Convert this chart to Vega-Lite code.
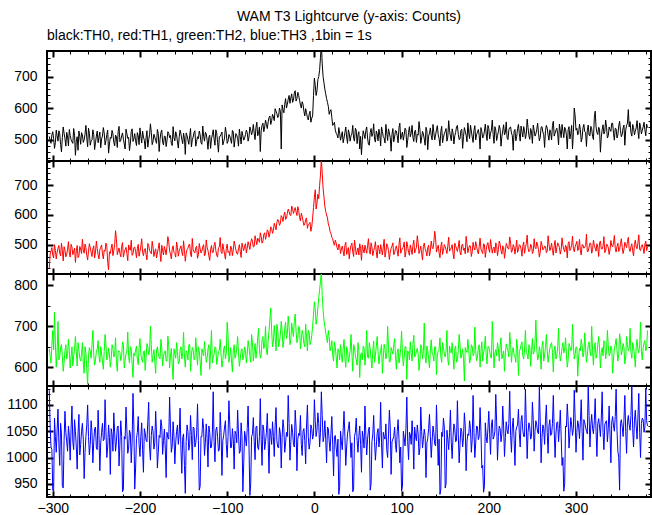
{
"$schema": "https://vega.github.io/schema/vega-lite/v6.json",
"background": "white",
"padding": {"left": 4, "top": 10, "right": 2, "bottom": 0},
"spacing": 0,
"bounds": "flush",
"title": {"text": "WAM T3 Lightcurve (y-axis: Counts)", "anchor": "middle", "dx": 20, "offset": 4},
"config": {
  "view": {"stroke": "black", "strokeWidth": 2},
  "title": {"font": "Liberation Sans", "fontSize": 14, "fontWeight": "normal", "color": "black"},
  "axis": {"domain": false, "grid": false, "labelFont": "Liberation Sans", "labelFontSize": 14, "labelColor": "black", "tickColor": "black", "title": null, "format": "d", "labelOverlap": false, "labelFlush": false, "labelBound": false},
  "concat": {"spacing": 0}
},
"data": {"values": [
{"t":-304,"a":510,"b":420,"c":645,"d":1128},{"t":-303,"a":497,"b":468,"c":628,"d":1060},{"t":-302,"a":488,"b":478,"c":610,"d":1020},{"t":-301,"a":515,"b":490,"c":655,"d":1015},{"t":-300,"a":525,"b":465,"c":690,"d":938},{"t":-299,"a":503,"b":455,"c":642,"d":935},{"t":-298,"a":472,"b":500,"c":735,"d":1075},{"t":-297,"a":490,"b":481,"c":660,"d":1040},{"t":-296,"a":530,"b":452,"c":600,"d":1010},{"t":-295,"a":512,"b":474,"c":636,"d":1052},
{"t":-294,"a":495,"b":488,"c":712,"d":1092},{"t":-293,"a":528,"b":497,"c":618,"d":1028},{"t":-292,"a":518,"b":470,"c":625,"d":985},{"t":-291,"a":484,"b":462,"c":648,"d":1065},{"t":-290,"a":461,"b":505,"c":655,"d":1045},{"t":-289,"a":506,"b":480,"c":626,"d":945},{"t":-288,"a":540,"b":445,"c":590,"d":942},{"t":-287,"a":520,"b":493,"c":612,"d":1032},{"t":-286,"a":503,"b":482,"c":640,"d":1088},{"t":-285,"a":479,"b":459,"c":655,"d":1048},
{"t":-284,"a":523,"b":468,"c":620,"d":1030},{"t":-283,"a":508,"b":485,"c":634,"d":1012},{"t":-282,"a":480,"b":510,"c":668,"d":1060},{"t":-281,"a":532,"b":472,"c":640,"d":1040},{"t":-280,"a":513,"b":458,"c":598,"d":995},{"t":-279,"a":500,"b":501,"c":625,"d":1055},{"t":-278,"a":493,"b":492,"c":650,"d":1098},{"t":-277,"a":488,"b":466,"c":603,"d":1030},{"t":-276,"a":535,"b":476,"c":628,"d":1015},{"t":-275,"a":514,"b":488,"c":645,"d":1072},
{"t":-274,"a":450,"b":440,"c":675,"d":1050},{"t":-273,"a":495,"b":479,"c":638,"d":1020},{"t":-272,"a":509,"b":497,"c":603,"d":978},{"t":-271,"a":466,"b":456,"c":660,"d":1045},{"t":-270,"a":527,"b":462,"c":642,"d":1082},{"t":-269,"a":510,"b":494,"c":622,"d":1005},{"t":-268,"a":485,"b":485,"c":615,"d":1025},{"t":-267,"a":522,"b":470,"c":633,"d":1050},{"t":-266,"a":515,"b":518,"c":660,"d":1065},{"t":-265,"a":491,"b":483,"c":610,"d":1035},
{"t":-264,"a":499,"b":471,"c":585,"d":960},{"t":-263,"a":517,"b":502,"c":650,"d":1010},{"t":-262,"a":545,"b":490,"c":635,"d":1040},{"t":-261,"a":505,"b":465,"c":595,"d":1062},{"t":-260,"a":477,"b":448,"c":558,"d":1100},{"t":-259,"a":536,"b":478,"c":628,"d":1040},{"t":-258,"a":520,"b":503,"c":648,"d":1005},{"t":-257,"a":482,"b":489,"c":640,"d":1025},{"t":-256,"a":496,"b":474,"c":622,"d":1070},{"t":-255,"a":499,"b":460,"c":655,"d":1048},
{"t":-254,"a":531,"b":486,"c":690,"d":990},{"t":-253,"a":516,"b":496,"c":632,"d":1030},{"t":-252,"a":468,"b":455,"c":605,"d":1055},{"t":-251,"a":490,"b":475,"c":618,"d":1058},{"t":-250,"a":511,"b":512,"c":638,"d":1018},{"t":-249,"a":527,"b":487,"c":645,"d":1015},{"t":-248,"a":490,"b":466,"c":665,"d":1090},{"t":-247,"a":508,"b":452,"c":627,"d":1042},{"t":-246,"a":524,"b":483,"c":612,"d":975},{"t":-245,"a":474,"b":491,"c":650,"d":1028},
{"t":-244,"a":502,"b":499,"c":632,"d":1048},{"t":-243,"a":511,"b":468,"c":615,"d":1065},{"t":-242,"a":538,"b":452,"c":595,"d":1032},{"t":-241,"a":521,"b":482,"c":638,"d":1035},{"t":-240,"a":483,"b":478,"c":680,"d":1110},{"t":-239,"a":497,"b":505,"c":655,"d":1050},{"t":-238,"a":516,"b":495,"c":618,"d":1000},{"t":-237,"a":530,"b":440,"c":624,"d":1020},{"t":-236,"a":457,"b":415,"c":647,"d":1062},{"t":-235,"a":486,"b":476,"c":632,"d":1038},
{"t":-234,"a":507,"b":470,"c":600,"d":968},{"t":-233,"a":504,"b":488,"c":620,"d":1055},{"t":-232,"a":529,"b":502,"c":655,"d":1044},{"t":-231,"a":518,"b":463,"c":646,"d":1012},{"t":-230,"a":491,"b":480,"c":625,"d":1085},{"t":-229,"a":480,"b":500,"c":630,"d":1046},{"t":-228,"a":514,"b":547,"c":672,"d":1012},{"t":-227,"a":509,"b":520,"c":612,"d":1030},{"t":-226,"a":475,"b":466,"c":590,"d":1058},{"t":-225,"a":526,"b":478,"c":640,"d":1060},
{"t":-224,"a":542,"b":489,"c":640,"d":984},{"t":-223,"a":493,"b":471,"c":636,"d":1025},{"t":-222,"a":498,"b":459,"c":616,"d":1070},{"t":-221,"a":512,"b":494,"c":628,"d":1040},{"t":-220,"a":521,"b":507,"c":662,"d":935},{"t":-219,"a":501,"b":458,"c":655,"d":940},{"t":-218,"a":486,"b":473,"c":598,"d":1040},{"t":-217,"a":470,"b":484,"c":617,"d":1035},{"t":-216,"a":533,"b":491,"c":633,"d":1096},{"t":-215,"a":519,"b":470,"c":640,"d":1052},
{"t":-214,"a":504,"b":446,"c":686,"d":1008},{"t":-213,"a":507,"b":499,"c":626,"d":1018},{"t":-212,"a":465,"b":484,"c":610,"d":1052},{"t":-211,"a":489,"b":481,"c":650,"d":1045},{"t":-210,"a":526,"b":515,"c":645,"d":990},{"t":-209,"a":534,"b":464,"c":608,"d":1030},{"t":-208,"a":494,"b":469,"c":575,"d":1122},{"t":-207,"a":503,"b":490,"c":635,"d":1062},{"t":-206,"a":519,"b":492,"c":628,"d":940},{"t":-205,"a":496,"b":477,"c":642,"d":980},
{"t":-204,"a":481,"b":456,"c":652,"d":1036},{"t":-203,"a":522,"b":486,"c":620,"d":1048},{"t":-202,"a":512,"b":501,"c":606,"d":1078},{"t":-201,"a":484,"b":461,"c":648,"d":1025},{"t":-200,"a":537,"b":477,"c":670,"d":1002},{"t":-199,"a":511,"b":495,"c":632,"d":1040},{"t":-198,"a":489,"b":520,"c":620,"d":1066},{"t":-197,"a":527,"b":474,"c":612,"d":1015},{"t":-196,"a":508,"b":463,"c":638,"d":972},{"t":-195,"a":498,"b":483,"c":640,"d":1055},
{"t":-194,"a":470,"b":487,"c":592,"d":1047},{"t":-193,"a":506,"b":467,"c":625,"d":1033},{"t":-192,"a":528,"b":449,"c":658,"d":1030},{"t":-191,"a":476,"b":504,"c":650,"d":1068},{"t":-190,"a":500,"b":498,"c":630,"d":1105},{"t":-189,"a":515,"b":480,"c":636,"d":1020},{"t":-188,"a":550,"b":475,"c":700,"d":995},{"t":-187,"a":523,"b":469,"c":655,"d":1042},{"t":-186,"a":484,"b":511,"c":612,"d":1060},{"t":-185,"a":494,"b":492,"c":628,"d":1050},
{"t":-184,"a":517,"b":460,"c":643,"d":1016},{"t":-183,"a":508,"b":476,"c":615,"d":1028},{"t":-182,"a":497,"b":486,"c":585,"d":1088},{"t":-181,"a":488,"b":455,"c":642,"d":1045},{"t":-180,"a":532,"b":472,"c":650,"d":980},{"t":-179,"a":519,"b":487,"c":633,"d":1010},{"t":-178,"a":462,"b":506,"c":624,"d":1042},{"t":-177,"a":501,"b":471,"c":620,"d":1038},{"t":-176,"a":522,"b":443,"c":668,"d":1072},{"t":-175,"a":530,"b":498,"c":648,"d":1060},
{"t":-174,"a":492,"b":481,"c":603,"d":1006},{"t":-173,"a":483,"b":465,"c":627,"d":1032},{"t":-172,"a":511,"b":494,"c":637,"d":1054},{"t":-171,"a":510,"b":482,"c":640,"d":1018},{"t":-170,"a":478,"b":466,"c":615,"d":962},{"t":-169,"a":497,"b":493,"c":615,"d":1048},{"t":-168,"a":525,"b":527,"c":676,"d":1038},{"t":-167,"a":520,"b":510,"c":652,"d":1035},{"t":-166,"a":506,"b":479,"c":598,"d":1115},{"t":-165,"a":513,"b":468,"c":630,"d":1055},
{"t":-164,"a":487,"b":452,"c":646,"d":1010},{"t":-163,"a":481,"b":485,"c":605,"d":1022},{"t":-162,"a":541,"b":496,"c":570,"d":1068},{"t":-161,"a":506,"b":474,"c":645,"d":1040},{"t":-160,"a":496,"b":470,"c":632,"d":988},{"t":-159,"a":525,"b":458,"c":622,"d":1028},{"t":-158,"a":515,"b":509,"c":660,"d":1050},{"t":-157,"a":492,"b":490,"c":638,"d":1062},{"t":-156,"a":473,"b":461,"c":608,"d":1025},{"t":-155,"a":509,"b":479,"c":612,"d":1045},
{"t":-154,"a":530,"b":488,"c":641,"d":1094},{"t":-153,"a":518,"b":496,"c":650,"d":1015},{"t":-152,"a":501,"b":475,"c":620,"d":970},{"t":-151,"a":487,"b":463,"c":634,"d":1038},{"t":-150,"a":520,"b":513,"c":685,"d":1045},{"t":-149,"a":504,"b":481,"c":625,"d":985},{"t":-148,"a":453,"b":444,"c":600,"d":932},{"t":-147,"a":521,"b":470,"c":640,"d":1030},{"t":-146,"a":513,"b":483,"c":635,"d":1062},{"t":-145,"a":499,"b":488,"c":618,"d":1050},
{"t":-144,"a":485,"b":499,"c":655,"d":1014},{"t":-143,"a":512,"b":502,"c":656,"d":1025},{"t":-142,"a":535,"b":467,"c":590,"d":1080},{"t":-141,"a":477,"b":459,"c":630,"d":1042},{"t":-140,"a":499,"b":521,"c":648,"d":996},{"t":-139,"a":508,"b":483,"c":643,"d":1058},{"t":-138,"a":523,"b":476,"c":618,"d":1056},{"t":-137,"a":528,"b":472,"c":620,"d":1020},{"t":-136,"a":479,"b":490,"c":672,"d":1028},{"t":-135,"a":494,"b":495,"c":636,"d":1045},
{"t":-134,"a":509,"b":454,"c":605,"d":1102},{"t":-133,"a":503,"b":466,"c":650,"d":1032},{"t":-132,"a":527,"b":504,"c":640,"d":938},{"t":-131,"a":516,"b":486,"c":614,"d":945},{"t":-130,"a":490,"b":472,"c":580,"d":1040},{"t":-129,"a":485,"b":478,"c":645,"d":1040},{"t":-128,"a":543,"b":493,"c":636,"d":1074},{"t":-127,"a":511,"b":500,"c":628,"d":1055},{"t":-126,"a":495,"b":462,"c":663,"d":1004},{"t":-125,"a":523,"b":469,"c":638,"d":1028},
{"t":-124,"a":518,"b":516,"c":612,"d":1064},{"t":-123,"a":498,"b":491,"c":622,"d":1036},{"t":-122,"a":469,"b":480,"c":645,"d":982},{"t":-121,"a":507,"b":462,"c":655,"d":1060},{"t":-120,"a":514,"b":447,"c":595,"d":1048},{"t":-119,"a":472,"b":484,"c":640,"d":1018},{"t":-118,"a":502,"b":497,"c":690,"d":1020},{"t":-117,"a":515,"b":473,"c":610,"d":1045},{"t":-116,"a":531,"b":474,"c":625,"d":1125},{"t":-115,"a":502,"b":497,"c":632,"d":1030},
{"t":-114,"a":482,"b":508,"c":650,"d":992},{"t":-113,"a":531,"b":480,"c":648,"d":1052},{"t":-112,"a":521,"b":465,"c":607,"d":1058},{"t":-111,"a":491,"b":458,"c":620,"d":1040},{"t":-110,"a":460,"b":489,"c":638,"d":1012},{"t":-109,"a":509,"b":492,"c":642,"d":1015},{"t":-108,"a":510,"b":524,"c":668,"d":1086},{"t":-107,"a":517,"b":476,"c":630,"d":1048},{"t":-106,"a":524,"b":470,"c":600,"d":966},{"t":-105,"a":483,"b":503,"c":616,"d":1032},
{"t":-104,"a":493,"b":485,"c":644,"d":1042},{"t":-103,"a":505,"b":468,"c":652,"d":1058},{"t":-102,"a":539,"b":451,"c":620,"d":1070},{"t":-101,"a":520,"b":487,"c":635,"d":1025},{"t":-100,"a":488,"b":502,"c":710,"d":1000},{"t":-99,"a":495,"b":474,"c":680,"d":1040},{"t":-98,"a":516,"b":478,"c":612,"d":1108},{"t":-97,"a":511,"b":463,"c":628,"d":1062},{"t":-96,"a":499,"b":495,"c":648,"d":1018},{"t":-95,"a":488,"b":490,"c":615,"d":1020},
{"t":-94,"a":529,"b":463,"c":588,"d":1055},{"t":-93,"a":524,"b":481,"c":640,"d":1035},{"t":-92,"a":476,"b":512,"c":655,"d":978},{"t":-91,"a":500,"b":498,"c":622,"d":1050},{"t":-90,"a":519,"b":482,"c":630,"d":1046},{"t":-89,"a":514,"b":470,"c":648,"d":1028},{"t":-88,"a":503,"b":468,"c":675,"d":1090},{"t":-87,"a":479,"b":486,"c":633,"d":1045},{"t":-86,"a":533,"b":500,"c":602,"d":1008},{"t":-85,"a":510,"b":477,"c":620,"d":1012},
{"t":-84,"a":486,"b":457,"c":640,"d":1066},{"t":-83,"a":526,"b":505,"c":645,"d":1040},{"t":-82,"a":512,"b":491,"c":618,"d":935},{"t":-81,"a":498,"b":480,"c":628,"d":990},{"t":-80,"a":505,"b":495,"c":650,"d":1050},{"t":-79,"a":516,"b":503,"c":640,"d":1038},{"t":-78,"a":530,"b":472,"c":610,"d":1022},{"t":-77,"a":522,"b":488,"c":632,"d":1055},{"t":-76,"a":495,"b":510,"c":665,"d":1098},{"t":-75,"a":508,"b":498,"c":650,"d":1025},
{"t":-74,"a":540,"b":484,"c":628,"d":928},{"t":-73,"a":530,"b":506,"c":612,"d":950},{"t":-72,"a":515,"b":520,"c":680,"d":1040},{"t":-71,"a":526,"b":512,"c":660,"d":1045},{"t":-70,"a":548,"b":492,"c":615,"d":1076},{"t":-69,"a":520,"b":494,"c":638,"d":1030},{"t":-68,"a":500,"b":530,"c":658,"d":996},{"t":-67,"a":538,"b":515,"c":622,"d":1058},{"t":-66,"a":555,"b":500,"c":640,"d":1060},{"t":-65,"a":512,"b":522,"c":672,"d":1020},
{"t":-64,"a":520,"b":515,"c":695,"d":1015},{"t":-63,"a":540,"b":508,"c":645,"d":1040},{"t":-62,"a":462,"b":540,"c":622,"d":1112},{"t":-61,"a":528,"b":528,"c":630,"d":1035},{"t":-60,"a":545,"b":505,"c":668,"d":985},{"t":-59,"a":552,"b":512,"c":675,"d":1062},{"t":-58,"a":525,"b":535,"c":645,"d":1052},{"t":-57,"a":540,"b":540,"c":655,"d":1015},{"t":-56,"a":562,"b":518,"c":700,"d":1030},{"t":-55,"a":548,"b":530,"c":640,"d":1048},
{"t":-54,"a":535,"b":550,"c":630,"d":1084},{"t":-53,"a":556,"b":545,"c":665,"d":1030},{"t":-52,"a":570,"b":525,"c":688,"d":970},{"t":-51,"a":575,"b":538,"c":718,"d":1055},{"t":-50,"a":548,"b":560,"c":745,"d":1044},{"t":-49,"a":560,"b":555,"c":690,"d":1025},{"t":-48,"a":580,"b":538,"c":650,"d":1068},{"t":-47,"a":572,"b":548,"c":662,"d":1040},{"t":-46,"a":560,"b":572,"c":702,"d":1002},{"t":-45,"a":598,"b":562,"c":675,"d":1060},
{"t":-44,"a":590,"b":550,"c":640,"d":1095},{"t":-43,"a":582,"b":575,"c":705,"d":1032},{"t":-42,"a":570,"b":585,"c":690,"d":1020},{"t":-41,"a":575,"b":580,"c":650,"d":1018},{"t":-40,"a":600,"b":565,"c":662,"d":1057},{"t":-39,"a":590,"b":572,"c":680,"d":1045},{"t":-38,"a":470,"b":598,"c":712,"d":980},{"t":-37,"a":610,"b":592,"c":690,"d":1038},{"t":-36,"a":595,"b":578,"c":648,"d":1072},{"t":-35,"a":585,"b":598,"c":665,"d":1055},
{"t":-34,"a":612,"b":610,"c":695,"d":1010},{"t":-33,"a":630,"b":585,"c":710,"d":1028},{"t":-32,"a":600,"b":590,"c":670,"d":1048},{"t":-31,"a":612,"b":605,"c":682,"d":1040},{"t":-30,"a":628,"b":620,"c":725,"d":1118},{"t":-29,"a":640,"b":612,"c":700,"d":1065},{"t":-28,"a":615,"b":600,"c":655,"d":995},{"t":-27,"a":632,"b":598,"c":668,"d":1030},{"t":-26,"a":645,"b":630,"c":708,"d":1063},{"t":-25,"a":618,"b":622,"c":690,"d":1048},
{"t":-24,"a":625,"b":605,"c":675,"d":1026},{"t":-23,"a":648,"b":615,"c":712,"d":1020},{"t":-22,"a":655,"b":625,"c":730,"d":1090},{"t":-21,"a":622,"b":610,"c":688,"d":1058},{"t":-20,"a":630,"b":598,"c":660,"d":975},{"t":-19,"a":650,"b":628,"c":670,"d":1035},{"t":-18,"a":640,"b":615,"c":700,"d":1046},{"t":-17,"a":625,"b":592,"c":698,"d":1042},{"t":-16,"a":610,"b":580,"c":645,"d":1080},{"t":-15,"a":600,"b":606,"c":665,"d":1025},
{"t":-14,"a":620,"b":595,"c":690,"d":1004},{"t":-13,"a":612,"b":580,"c":680,"d":1050},{"t":-12,"a":590,"b":565,"c":658,"d":1055},{"t":-11,"a":575,"b":570,"c":650,"d":1032},{"t":-10,"a":598,"b":585,"c":705,"d":988},{"t":-9,"a":585,"b":590,"c":672,"d":1060},{"t":-8,"a":570,"b":555,"c":640,"d":1100},{"t":-7,"a":562,"b":568,"c":690,"d":1040},{"t":-6,"a":580,"b":570,"c":685,"d":1016},{"t":-5,"a":590,"b":575,"c":655,"d":1028},
{"t":-4,"a":555,"b":545,"c":662,"d":1062},{"t":-3,"a":568,"b":560,"c":678,"d":1055},{"t":-2,"a":575,"b":590,"c":700,"d":1035},{"t":-1,"a":640,"b":625,"c":730,"d":1045},{"t":0,"a":695,"b":660,"c":760,"d":1110},{"t":1,"a":672,"b":685,"c":742,"d":1070},{"t":2,"a":640,"b":620,"c":705,"d":1040},{"t":3,"a":655,"b":640,"c":720,"d":1052},{"t":4,"a":690,"b":670,"c":745,"d":1085},{"t":5,"a":700,"b":655,"c":770,"d":1065},
{"t":6,"a":720,"b":700,"c":790,"d":1020},{"t":7,"a":760,"b":735,"c":810,"d":1048},{"t":8,"a":805,"b":790,"c":835,"d":1125},{"t":9,"a":740,"b":740,"c":775,"d":1080},{"t":10,"a":700,"b":690,"c":740,"d":1030},{"t":11,"a":680,"b":660,"c":715,"d":1040},{"t":12,"a":660,"b":630,"c":700,"d":1070},{"t":13,"a":645,"b":612,"c":685,"d":1035},{"t":14,"a":630,"b":600,"c":672,"d":990},{"t":15,"a":618,"b":590,"c":660,"d":1058},
{"t":16,"a":605,"b":570,"c":690,"d":1055},{"t":17,"a":580,"b":560,"c":675,"d":1030},{"t":18,"a":590,"b":545,"c":640,"d":1012},{"t":19,"a":595,"b":538,"c":650,"d":1045},{"t":20,"a":570,"b":525,"c":665,"d":1078},{"t":21,"a":545,"b":520,"c":630,"d":1025},{"t":22,"a":548,"b":505,"c":615,"d":965},{"t":23,"a":555,"b":498,"c":662,"d":1040},{"t":24,"a":530,"b":515,"c":650,"d":1042},{"t":25,"a":520,"b":505,"c":625,"d":1018},
{"t":26,"a":515,"b":490,"c":598,"d":1002},{"t":27,"a":505,"b":482,"c":645,"d":1035},{"t":28,"a":538,"b":502,"c":640,"d":930},{"t":29,"a":520,"b":496,"c":618,"d":945},{"t":30,"a":498,"b":470,"c":655,"d":1050},{"t":31,"a":512,"b":485,"c":630,"d":1030},{"t":32,"a":525,"b":495,"c":612,"d":1015},{"t":33,"a":490,"b":478,"c":645,"d":1052},{"t":34,"a":505,"b":462,"c":668,"d":1088},{"t":35,"a":522,"b":498,"c":622,"d":1040},
{"t":36,"a":540,"b":508,"c":600,"d":985},{"t":37,"a":508,"b":467,"c":650,"d":1020},{"t":38,"a":488,"b":480,"c":642,"d":1045},{"t":39,"a":531,"b":490,"c":612,"d":1055},{"t":40,"a":520,"b":452,"c":625,"d":1068},{"t":41,"a":495,"b":482,"c":640,"d":1035},{"t":42,"a":512,"b":497,"c":680,"d":1000},{"t":43,"a":518,"b":505,"c":634,"d":1028},{"t":44,"a":545,"b":475,"c":590,"d":935},{"t":45,"a":503,"b":460,"c":655,"d":940},
{"t":46,"a":495,"b":515,"c":648,"d":1040},{"t":47,"a":536,"b":493,"c":628,"d":1048},{"t":48,"a":530,"b":466,"c":618,"d":1075},{"t":49,"a":487,"b":477,"c":605,"d":1032},{"t":50,"a":515,"b":489,"c":660,"d":1010},{"t":51,"a":525,"b":465,"c":642,"d":1040},{"t":52,"a":470,"b":503,"c":575,"d":1060},{"t":53,"a":510,"b":488,"c":630,"d":1025},{"t":54,"a":452,"b":447,"c":635,"d":972},{"t":55,"a":498,"b":499,"c":618,"d":1050},
{"t":56,"a":528,"b":484,"c":652,"d":1038},{"t":57,"a":516,"b":472,"c":648,"d":1018},{"t":58,"a":503,"b":498,"c":605,"d":1098},{"t":59,"a":529,"b":484,"c":636,"d":1042},{"t":60,"a":540,"b":471,"c":690,"d":1005},{"t":61,"a":505,"b":496,"c":625,"d":1035},{"t":62,"a":485,"b":520,"c":622,"d":1052},{"t":63,"a":482,"b":480,"c":660,"d":1058},{"t":64,"a":522,"b":468,"c":645,"d":938},{"t":65,"a":535,"b":506,"c":620,"d":950},
{"t":66,"a":510,"b":492,"c":598,"d":1030},{"t":67,"a":519,"b":463,"c":640,"d":1045},{"t":68,"a":550,"b":479,"c":664,"d":1080},{"t":69,"a":500,"b":491,"c":612,"d":1030},{"t":70,"a":492,"b":510,"c":630,"d":995},{"t":71,"a":527,"b":475,"c":650,"d":1022},{"t":72,"a":518,"b":455,"c":675,"d":1046},{"t":73,"a":496,"b":498,"c":638,"d":1055},{"t":74,"a":533,"b":487,"c":608,"d":1020},{"t":75,"a":514,"b":469,"c":628,"d":1040},
{"t":76,"a":480,"b":500,"c":640,"d":1105},{"t":77,"a":540,"b":484,"c":655,"d":1028},{"t":78,"a":526,"b":465,"c":585,"d":980},{"t":79,"a":509,"b":492,"c":622,"d":1048},{"t":80,"a":505,"b":518,"c":656,"d":1040},{"t":81,"a":489,"b":458,"c":644,"d":1035},{"t":82,"a":548,"b":476,"c":620,"d":1064},{"t":83,"a":521,"b":503,"c":632,"d":1015},{"t":84,"a":497,"b":494,"c":700,"d":1000},{"t":85,"a":534,"b":481,"c":648,"d":1045},
{"t":86,"a":521,"b":450,"c":612,"d":1090},{"t":87,"a":506,"b":474,"c":615,"d":1058},{"t":88,"a":463,"b":488,"c":648,"d":968},{"t":89,"a":517,"b":495,"c":640,"d":1030},{"t":90,"a":535,"b":506,"c":632,"d":1035},{"t":91,"a":493,"b":466,"c":655,"d":1040},{"t":92,"a":508,"b":472,"c":670,"d":1058},{"t":93,"a":529,"b":487,"c":628,"d":1025},{"t":94,"a":527,"b":496,"c":595,"d":1010},{"t":95,"a":512,"b":479,"c":636,"d":1050},
{"t":96,"a":490,"b":461,"c":645,"d":1072},{"t":97,"a":538,"b":500,"c":610,"d":1035},{"t":98,"a":552,"b":523,"c":625,"d":990},{"t":99,"a":501,"b":471,"c":646,"d":1020},{"t":100,"a":513,"b":480,"c":688,"d":936},{"t":101,"a":524,"b":489,"c":632,"d":945},{"t":102,"a":498,"b":491,"c":603,"d":1050},{"t":103,"a":515,"b":509,"c":625,"d":1038},{"t":104,"a":536,"b":458,"c":650,"d":1022},{"t":105,"a":530,"b":476,"c":650,"d":1055},
{"t":106,"a":475,"b":510,"c":570,"d":1115},{"t":107,"a":498,"b":493,"c":640,"d":1030},{"t":108,"a":523,"b":474,"c":638,"d":996},{"t":109,"a":541,"b":464,"c":618,"d":1048},{"t":110,"a":509,"b":499,"c":662,"d":1044},{"t":111,"a":520,"b":485,"c":635,"d":1025},{"t":112,"a":545,"b":467,"c":615,"d":1070},{"t":113,"a":507,"b":497,"c":656,"d":1040},{"t":114,"a":494,"b":515,"c":678,"d":978},{"t":115,"a":526,"b":472,"c":625,"d":1058},
{"t":116,"a":530,"b":483,"c":628,"d":1040},{"t":117,"a":491,"b":490,"c":640,"d":1032},{"t":118,"a":517,"b":530,"c":646,"d":1062},{"t":119,"a":514,"b":505,"c":632,"d":1045},{"t":120,"a":557,"b":470,"c":592,"d":1005},{"t":121,"a":532,"b":481,"c":615,"d":1018},{"t":122,"a":488,"b":495,"c":655,"d":1096},{"t":123,"a":505,"b":470,"c":648,"d":1050},{"t":124,"a":526,"b":448,"c":620,"d":1018},{"t":125,"a":518,"b":494,"c":638,"d":1035},
{"t":126,"a":502,"b":505,"c":708,"d":1054},{"t":127,"a":482,"b":486,"c":626,"d":1042},{"t":128,"a":539,"b":478,"c":610,"d":962},{"t":129,"a":527,"b":462,"c":652,"d":1028},{"t":130,"a":468,"b":490,"c":642,"d":1036},{"t":131,"a":511,"b":498,"c":620,"d":1055},{"t":132,"a":521,"b":462,"c":598,"d":1082},{"t":133,"a":537,"b":479,"c":642,"d":1040},{"t":134,"a":512,"b":512,"c":667,"d":1000},{"t":135,"a":499,"b":491,"c":636,"d":1030},
{"t":136,"a":548,"b":486,"c":630,"d":1060},{"t":137,"a":522,"b":508,"c":615,"d":1048},{"t":138,"a":499,"b":545,"c":650,"d":1025},{"t":139,"a":515,"b":520,"c":650,"d":1022},{"t":140,"a":531,"b":475,"c":582,"d":1100},{"t":141,"a":544,"b":487,"c":630,"d":1045},{"t":142,"a":515,"b":498,"c":640,"d":985},{"t":143,"a":503,"b":473,"c":644,"d":1035},{"t":144,"a":480,"b":456,"c":672,"d":930},{"t":145,"a":526,"b":494,"c":625,"d":940},
{"t":146,"a":542,"b":509,"c":612,"d":1048},{"t":147,"a":490,"b":467,"c":660,"d":1040},{"t":148,"a":507,"b":481,"c":648,"d":1075},{"t":149,"a":519,"b":500,"c":632,"d":1058},{"t":150,"a":526,"b":493,"c":625,"d":942},{"t":151,"a":535,"b":483,"c":640,"d":950},{"t":152,"a":495,"b":470,"c":690,"d":1052},{"t":153,"a":508,"b":496,"c":618,"d":1035},{"t":154,"a":560,"b":525,"c":605,"d":1015},{"t":155,"a":528,"b":478,"c":652,"d":1048},
{"t":156,"a":511,"b":484,"c":638,"d":1090},{"t":157,"a":496,"b":489,"c":635,"d":1028},{"t":158,"a":534,"b":500,"c":660,"d":998},{"t":159,"a":521,"b":471,"c":628,"d":1040},{"t":160,"a":486,"b":452,"c":595,"d":1064},{"t":161,"a":512,"b":505,"c":645,"d":1055},{"t":162,"a":523,"b":496,"c":652,"d":1030},{"t":163,"a":540,"b":486,"c":612,"d":1032},{"t":164,"a":545,"b":477,"c":618,"d":1108},{"t":165,"a":517,"b":492,"c":640,"d":1045},
{"t":166,"a":500,"b":514,"c":680,"d":990},{"t":167,"a":502,"b":475,"c":655,"d":1025},{"t":168,"a":529,"b":465,"c":622,"d":1056},{"t":169,"a":533,"b":498,"c":630,"d":1050},{"t":170,"a":472,"b":502,"c":645,"d":1020},{"t":171,"a":510,"b":481,"c":622,"d":1038},{"t":172,"a":538,"b":488,"c":566,"d":1085},{"t":173,"a":526,"b":469,"c":648,"d":1060},{"t":174,"a":514,"b":528,"c":640,"d":975},{"t":175,"a":493,"b":502,"c":636,"d":1030},
{"t":176,"a":553,"b":473,"c":668,"d":1045},{"t":177,"a":520,"b":488,"c":642,"d":1042},{"t":178,"a":503,"b":497,"c":610,"d":1070},{"t":179,"a":546,"b":495,"c":620,"d":1055},{"t":180,"a":527,"b":460,"c":655,"d":1010},{"t":181,"a":508,"b":476,"c":650,"d":1035},{"t":182,"a":491,"b":508,"c":628,"d":1118},{"t":183,"a":529,"b":490,"c":633,"d":1048},{"t":184,"a":544,"b":482,"c":698,"d":1000},{"t":185,"a":499,"b":510,"c":640,"d":1028},
{"t":186,"a":516,"b":495,"c":616,"d":1060},{"t":187,"a":523,"b":479,"c":625,"d":1058},{"t":188,"a":532,"b":469,"c":647,"d":1034},{"t":189,"a":514,"b":493,"c":655,"d":1040},{"t":190,"a":470,"b":522,"c":600,"d":1095},{"t":191,"a":538,"b":485,"c":638,"d":1050},{"t":192,"a":525,"b":478,"c":662,"d":980},{"t":193,"a":505,"b":470,"c":615,"d":985},{"t":194,"a":510,"b":503,"c":635,"d":934},{"t":195,"a":527,"b":499,"c":645,"d":945},
{"t":196,"a":549,"b":457,"c":676,"d":1066},{"t":197,"a":518,"b":482,"c":632,"d":1040},{"t":198,"a":497,"b":499,"c":608,"d":1028},{"t":199,"a":545,"b":507,"c":650,"d":1055},{"t":200,"a":536,"b":485,"c":650,"d":1088},{"t":201,"a":502,"b":474,"c":640,"d":1045},{"t":202,"a":520,"b":517,"c":625,"d":1006},{"t":203,"a":530,"b":494,"c":622,"d":1062},{"t":204,"a":562,"b":471,"c":712,"d":1072},{"t":205,"a":516,"b":487,"c":658,"d":1035},
{"t":206,"a":488,"b":492,"c":598,"d":1040},{"t":207,"a":541,"b":472,"c":635,"d":1050},{"t":208,"a":530,"b":506,"c":643,"d":1120},{"t":209,"a":497,"b":497,"c":628,"d":1068},{"t":210,"a":512,"b":463,"c":660,"d":995},{"t":211,"a":525,"b":483,"c":645,"d":1040},{"t":212,"a":545,"b":512,"c":615,"d":1060},{"t":213,"a":533,"b":501,"c":652,"d":1055},{"t":214,"a":479,"b":480,"c":672,"d":1030},{"t":215,"a":510,"b":468,"c":620,"d":1045},
{"t":216,"a":528,"b":496,"c":630,"d":1098},{"t":217,"a":547,"b":490,"c":640,"d":1060},{"t":218,"a":515,"b":454,"c":590,"d":1002},{"t":219,"a":522,"b":478,"c":633,"d":1038},{"t":220,"a":556,"b":504,"c":657,"d":1068},{"t":221,"a":505,"b":496,"c":648,"d":1052},{"t":222,"a":500,"b":487,"c":640,"d":1045},{"t":223,"a":531,"b":485,"c":625,"d":1065},{"t":224,"a":538,"b":526,"c":685,"d":1126},{"t":225,"a":540,"b":505,"c":655,"d":1042},
{"t":226,"a":521,"b":474,"c":612,"d":1010},{"t":227,"a":512,"b":480,"c":640,"d":1058},{"t":228,"a":466,"b":500,"c":648,"d":1075},{"t":229,"a":527,"b":492,"c":630,"d":1035},{"t":230,"a":532,"b":468,"c":626,"d":985},{"t":231,"a":496,"b":489,"c":612,"d":1050},{"t":232,"a":510,"b":515,"c":668,"d":1058},{"t":233,"a":535,"b":474,"c":646,"d":1062},{"t":234,"a":548,"b":483,"c":580,"d":1092},{"t":235,"a":519,"b":500,"c":638,"d":1045},
{"t":236,"a":495,"b":497,"c":644,"d":1020},{"t":237,"a":543,"b":486,"c":655,"d":1070},{"t":238,"a":526,"b":461,"c":662,"d":1080},{"t":239,"a":508,"b":495,"c":628,"d":1052},{"t":240,"a":541,"b":509,"c":620,"d":1040},{"t":241,"a":529,"b":471,"c":642,"d":1040},{"t":242,"a":503,"b":490,"c":690,"d":1130},{"t":243,"a":517,"b":503,"c":635,"d":1065},{"t":244,"a":565,"b":532,"c":632,"d":998},{"t":245,"a":538,"b":488,"c":620,"d":1048},
{"t":246,"a":512,"b":476,"c":655,"d":1066},{"t":247,"a":501,"b":480,"c":650,"d":1058},{"t":248,"a":535,"b":501,"c":602,"d":1035},{"t":249,"a":524,"b":497,"c":640,"d":1040},{"t":250,"a":488,"b":470,"c":670,"d":1105},{"t":251,"a":546,"b":477,"c":632,"d":1072},{"t":252,"a":529,"b":520,"c":638,"d":1012},{"t":253,"a":511,"b":491,"c":660,"d":1050},{"t":254,"a":518,"b":486,"c":715,"d":1070},{"t":255,"a":532,"b":509,"c":645,"d":1062},
{"t":256,"a":552,"b":498,"c":618,"d":1048},{"t":257,"a":520,"b":483,"c":625,"d":1045},{"t":258,"a":496,"b":458,"c":650,"d":1134},{"t":259,"a":507,"b":475,"c":638,"d":1068},{"t":260,"a":539,"b":511,"c":595,"d":990},{"t":261,"a":541,"b":499,"c":652,"d":1038},{"t":262,"a":524,"b":482,"c":664,"d":1062},{"t":263,"a":515,"b":487,"c":615,"d":1055},{"t":264,"a":475,"b":495,"c":630,"d":1025},{"t":265,"a":528,"b":494,"c":648,"d":1070},
{"t":266,"a":545,"b":473,"c":680,"d":1100},{"t":267,"a":536,"b":478,"c":640,"d":1048},{"t":268,"a":514,"b":530,"c":612,"d":1008},{"t":269,"a":498,"b":502,"c":630,"d":1060},{"t":270,"a":531,"b":480,"c":646,"d":1072},{"t":271,"a":522,"b":489,"c":655,"d":1042},{"t":272,"a":499,"b":505,"c":660,"d":1044},{"t":273,"a":545,"b":481,"c":636,"d":1065},{"t":274,"a":558,"b":464,"c":588,"d":1118},{"t":275,"a":511,"b":496,"c":642,"d":1052},
{"t":276,"a":520,"b":514,"c":652,"d":1000},{"t":277,"a":530,"b":472,"c":620,"d":1045},{"t":278,"a":536,"b":489,"c":628,"d":1066},{"t":279,"a":518,"b":506,"c":650,"d":1068},{"t":280,"a":483,"b":500,"c":695,"d":1030},{"t":281,"a":549,"b":490,"c":638,"d":1055},{"t":282,"a":527,"b":468,"c":615,"d":1090},{"t":283,"a":506,"b":484,"c":628,"d":1040},{"t":284,"a":548,"b":523,"c":648,"d":985},{"t":285,"a":527,"b":497,"c":660,"d":1000},
{"t":286,"a":506,"b":484,"c":635,"d":936},{"t":287,"a":539,"b":476,"c":645,"d":950},{"t":288,"a":533,"b":498,"c":672,"d":1060},{"t":289,"a":514,"b":492,"c":632,"d":1058},{"t":290,"a":470,"b":455,"c":600,"d":1102},{"t":291,"a":531,"b":503,"c":618,"d":1070},{"t":292,"a":541,"b":510,"c":658,"d":1018},{"t":293,"a":502,"b":480,"c":650,"d":1045},{"t":294,"a":519,"b":487,"c":640,"d":1076},{"t":295,"a":545,"b":498,"c":642,"d":1062},
{"t":296,"a":470,"b":529,"c":705,"d":1042},{"t":297,"a":522,"b":487,"c":655,"d":1055},{"t":298,"a":600,"b":476,"c":620,"d":1128},{"t":299,"a":575,"b":493,"c":630,"d":1075},{"t":300,"a":530,"b":502,"c":650,"d":1010},{"t":301,"a":536,"b":511,"c":648,"d":1048},{"t":302,"a":515,"b":480,"c":578,"d":1070},{"t":303,"a":519,"b":485,"c":625,"d":1060},{"t":304,"a":549,"b":518,"c":646,"d":1036},{"t":305,"a":532,"b":479,"c":640,"d":1068},
{"t":306,"a":493,"b":465,"c":668,"d":1110},{"t":307,"a":505,"b":500,"c":652,"d":1050},{"t":308,"a":537,"b":499,"c":625,"d":995},{"t":309,"a":548,"b":488,"c":636,"d":1072},{"t":310,"a":525,"b":492,"c":684,"d":1066},{"t":311,"a":523,"b":496,"c":645,"d":1058},{"t":312,"a":478,"b":535,"c":612,"d":1050},{"t":313,"a":530,"b":475,"c":630,"d":1045},{"t":314,"a":546,"b":478,"c":655,"d":1135},{"t":315,"a":514,"b":492,"c":662,"d":1080},
{"t":316,"a":512,"b":506,"c":638,"d":1020},{"t":317,"a":542,"b":504,"c":628,"d":1062},{"t":318,"a":534,"b":471,"c":700,"d":1082},{"t":319,"a":510,"b":483,"c":640,"d":1055},{"t":320,"a":500,"b":515,"c":605,"d":1045},{"t":321,"a":570,"b":498,"c":650,"d":1070},{"t":322,"a":590,"b":488,"c":660,"d":1112},{"t":323,"a":540,"b":478,"c":622,"d":1050},{"t":324,"a":522,"b":503,"c":632,"d":1002},{"t":325,"a":516,"b":491,"c":655,"d":1065},
{"t":326,"a":539,"b":460,"c":675,"d":1074},{"t":327,"a":533,"b":507,"c":645,"d":1058},{"t":328,"a":460,"b":512,"c":598,"d":1040},{"t":329,"a":508,"b":486,"c":636,"d":1075},{"t":330,"a":531,"b":485,"c":648,"d":1125},{"t":331,"a":547,"b":495,"c":628,"d":1048},{"t":332,"a":518,"b":527,"c":665,"d":1015},{"t":333,"a":525,"b":473,"c":660,"d":1062},{"t":334,"a":562,"b":479,"c":620,"d":1068},{"t":335,"a":539,"b":501,"c":640,"d":1070},
{"t":336,"a":505,"b":500,"c":690,"d":1030},{"t":337,"a":512,"b":489,"c":652,"d":1055},{"t":338,"a":540,"b":467,"c":628,"d":1098},{"t":339,"a":531,"b":482,"c":633,"d":1045},{"t":340,"a":526,"b":514,"c":652,"d":990},{"t":341,"a":552,"b":497,"c":645,"d":1068},{"t":342,"a":552,"b":492,"c":585,"d":1078},{"t":343,"a":520,"b":506,"c":620,"d":1060},{"t":344,"a":498,"b":531,"c":645,"d":1050},{"t":345,"a":536,"b":488,"c":656,"d":1078},
{"t":346,"a":534,"b":475,"c":670,"d":1130},{"t":347,"a":505,"b":494,"c":642,"d":1052},{"t":348,"a":515,"b":505,"c":615,"d":1012},{"t":349,"a":543,"b":477,"c":630,"d":1000},{"t":350,"a":558,"b":483,"c":682,"d":938},{"t":351,"a":528,"b":503,"c":665,"d":1065},{"t":352,"a":509,"b":520,"c":630,"d":1072},{"t":353,"a":517,"b":490,"c":640,"d":1058},{"t":354,"a":537,"b":470,"c":658,"d":1040},{"t":355,"a":546,"b":484,"c":648,"d":1072},
{"t":356,"a":482,"b":508,"c":608,"d":1118},{"t":357,"a":530,"b":499,"c":625,"d":1050},{"t":358,"a":545,"b":490,"c":675,"d":1008},{"t":359,"a":552,"b":510,"c":655,"d":1068},{"t":360,"a":595,"b":525,"c":640,"d":1080},{"t":361,"a":540,"b":486,"c":645,"d":1062},{"t":362,"a":557,"b":477,"c":695,"d":1052},{"t":363,"a":522,"b":493,"c":636,"d":1080},{"t":364,"a":511,"b":503,"c":622,"d":1136},{"t":365,"a":548,"b":479,"c":660,"d":1055},
{"t":366,"a":538,"b":462,"c":650,"d":1020},{"t":367,"a":515,"b":500,"c":630,"d":1070},{"t":368,"a":526,"b":515,"c":600,"d":1090},{"t":369,"a":537,"b":492,"c":650,"d":1060},{"t":370,"a":560,"b":486,"c":668,"d":1035},{"t":371,"a":529,"b":505,"c":642,"d":1075},{"t":372,"a":503,"b":533,"c":635,"d":1122},{"t":373,"a":553,"b":484,"c":655,"d":1048},{"t":374,"a":541,"b":480,"c":710,"d":1000},{"t":375,"a":518,"b":496,"c":638,"d":1065},
{"t":376,"a":529,"b":500,"c":618,"d":1075},{"t":377,"a":540,"b":488,"c":648,"d":1072},{"t":378,"a":555,"b":470,"c":660,"d":1048},{"t":379,"a":531,"b":502,"c":665,"d":1058},{"t":380,"a":512,"b":512,"c":640,"d":1132},{"t":381,"a":549,"b":480,"c":645,"d":1070},{"t":382,"a":538,"b":492,"c":690,"d":1060}
]},
"vconcat": [
{
 "width": 604, "height": 110,
 "title": {"text": "black:TH0, red:TH1, green:TH2, blue:TH3 ,1bin = 1s", "anchor": "start", "frame": "group", "offset": 7},
 "layer": [
  {"mark": {"type": "line", "color": "black", "strokeWidth": 1, "clip": true},
   "encoding": {
    "x": {"field": "t", "type": "quantitative", "scale": {"domain": [-306.6, 386], "nice": false, "zero": false},
          "axis": {"orient": "bottom", "labels": false, "values": [-300,-280,-260,-240,-220,-200,-180,-160,-140,-120,-100,-80,-60,-40,-20,0,20,40,60,80,100,120,140,160,180,200,220,240,260,280,300,320,340,360,380],
                   "tickSize": {"condition": {"test": "datum.value % 100 === 0", "value": -6}, "value": -3},
                   "tickWidth": {"condition": {"test": "datum.value % 100 === 0", "value": 2}, "value": 1}}},
    "y": {"field": "a", "type": "quantitative", "scale": {"domain": [432, 781], "nice": false, "zero": false},
          "axis": {"orient": "left", "values": [500,600,700], "labelPadding": 16, "tickSize": -6, "tickWidth": 2}}
   }},
  {"mark": {"type": "line", "opacity": 0, "clip": true},
   "encoding": {
    "x": {"field": "t", "type": "quantitative",
          "axis": {"orient": "top", "labels": false, "values": [-300,-280,-260,-240,-220,-200,-180,-160,-140,-120,-100,-80,-60,-40,-20,0,20,40,60,80,100,120,140,160,180,200,220,240,260,280,300,320,340,360,380],
                   "tickSize": {"condition": {"test": "datum.value % 100 === 0", "value": -6}, "value": -3},
                   "tickWidth": {"condition": {"test": "datum.value % 100 === 0", "value": 2}, "value": 1}}},
    "y": {"field": "a", "type": "quantitative",
          "axis": {"orient": "right", "labels": false, "values": [440,460,480,500,520,540,560,580,600,620,640,660,680,700,720,740,760,780],
                   "tickSize": {"condition": {"test": "datum.value % 100 === 0", "value": -6}, "value": -3},
                   "tickWidth": {"condition": {"test": "datum.value % 100 === 0", "value": 2}, "value": 1}}}
   }},
  {"mark": {"type": "line", "opacity": 0, "clip": true},
   "encoding": {
    "x": {"field": "t", "type": "quantitative", "axis": null},
    "y": {"field": "a", "type": "quantitative",
          "axis": {"orient": "left", "labels": false, "values": [440,460,480,520,540,560,580,620,640,660,680,720,740,760,780], "tickSize": -3, "tickWidth": 1}}
   }}
 ],
 "resolve": {"axis": {"x": "independent", "y": "independent"}}
},
{
 "width": 604, "height": 113,
 "layer": [
  {"mark": {"type": "line", "color": "#ff0000", "strokeWidth": 1, "clip": true},
   "encoding": {
    "x": {"field": "t", "type": "quantitative", "scale": {"domain": [-306.6, 386], "nice": false, "zero": false},
          "axis": {"orient": "bottom", "labels": false, "values": [-300,-280,-260,-240,-220,-200,-180,-160,-140,-120,-100,-80,-60,-40,-20,0,20,40,60,80,100,120,140,160,180,200,220,240,260,280,300,320,340,360,380],
                   "tickSize": {"condition": {"test": "datum.value % 100 === 0", "value": -6}, "value": -3},
                   "tickWidth": {"condition": {"test": "datum.value % 100 === 0", "value": 2}, "value": 1}}},
    "y": {"field": "b", "type": "quantitative", "scale": {"domain": [401, 782], "nice": false, "zero": false},
          "axis": {"orient": "left", "values": [500,600,700], "labelPadding": 16, "tickSize": -6, "tickWidth": 2}}
   }},
  {"mark": {"type": "line", "opacity": 0, "clip": true},
   "encoding": {
    "x": {"field": "t", "type": "quantitative",
          "axis": {"orient": "top", "labels": false, "values": [-300,-280,-260,-240,-220,-200,-180,-160,-140,-120,-100,-80,-60,-40,-20,0,20,40,60,80,100,120,140,160,180,200,220,240,260,280,300,320,340,360,380],
                   "tickSize": {"condition": {"test": "datum.value % 100 === 0", "value": -6}, "value": -3},
                   "tickWidth": {"condition": {"test": "datum.value % 100 === 0", "value": 2}, "value": 1}}},
    "y": {"field": "b", "type": "quantitative",
          "axis": {"orient": "right", "labels": false, "values": [420,440,460,480,500,520,540,560,580,600,620,640,660,680,700,720,740,760,780],
                   "tickSize": {"condition": {"test": "datum.value % 100 === 0", "value": -6}, "value": -3},
                   "tickWidth": {"condition": {"test": "datum.value % 100 === 0", "value": 2}, "value": 1}}}
   }},
  {"mark": {"type": "line", "opacity": 0, "clip": true},
   "encoding": {
    "x": {"field": "t", "type": "quantitative", "axis": null},
    "y": {"field": "b", "type": "quantitative",
          "axis": {"orient": "left", "labels": false, "values": [420,440,460,480,520,540,560,580,620,640,660,680,720,740,760,780], "tickSize": -3, "tickWidth": 1}}
   }}
 ],
 "resolve": {"axis": {"x": "independent", "y": "independent"}}
},
{
 "width": 604, "height": 112,
 "layer": [
  {"mark": {"type": "line", "color": "#00ff00", "strokeWidth": 1, "clip": true},
   "encoding": {
    "x": {"field": "t", "type": "quantitative", "scale": {"domain": [-306.6, 386], "nice": false, "zero": false},
          "axis": {"orient": "bottom", "labels": false, "values": [-300,-280,-260,-240,-220,-200,-180,-160,-140,-120,-100,-80,-60,-40,-20,0,20,40,60,80,100,120,140,160,180,200,220,240,260,280,300,320,340,360,380],
                   "tickSize": {"condition": {"test": "datum.value % 100 === 0", "value": -6}, "value": -3},
                   "tickWidth": {"condition": {"test": "datum.value % 100 === 0", "value": 2}, "value": 1}}},
    "y": {"field": "c", "type": "quantitative", "scale": {"domain": [554, 828], "nice": false, "zero": false},
          "axis": {"orient": "left", "values": [600,700,800], "labelPadding": 16, "tickSize": -6, "tickWidth": 2}}
   }},
  {"mark": {"type": "line", "opacity": 0, "clip": true},
   "encoding": {
    "x": {"field": "t", "type": "quantitative",
          "axis": {"orient": "top", "labels": false, "values": [-300,-280,-260,-240,-220,-200,-180,-160,-140,-120,-100,-80,-60,-40,-20,0,20,40,60,80,100,120,140,160,180,200,220,240,260,280,300,320,340,360,380],
                   "tickSize": {"condition": {"test": "datum.value % 100 === 0", "value": -6}, "value": -3},
                   "tickWidth": {"condition": {"test": "datum.value % 100 === 0", "value": 2}, "value": 1}}},
    "y": {"field": "c", "type": "quantitative",
          "axis": {"orient": "right", "labels": false, "values": [600,650,700,750,800],
                   "tickSize": {"condition": {"test": "datum.value % 100 === 0", "value": -6}, "value": -3},
                   "tickWidth": {"condition": {"test": "datum.value % 100 === 0", "value": 2}, "value": 1}}}
   }},
  {"mark": {"type": "line", "opacity": 0, "clip": true},
   "encoding": {
    "x": {"field": "t", "type": "quantitative", "axis": null},
    "y": {"field": "c", "type": "quantitative",
          "axis": {"orient": "left", "labels": false, "values": [650,750], "tickSize": -3, "tickWidth": 1}}
   }}
 ],
 "resolve": {"axis": {"x": "independent", "y": "independent"}}
},
{
 "width": 604, "height": 111,
 "layer": [
  {"mark": {"type": "line", "color": "#0000ff", "strokeWidth": 1, "clip": true},
   "encoding": {
    "x": {"field": "t", "type": "quantitative", "scale": {"domain": [-306.6, 386], "nice": false, "zero": false},
          "axis": {"orient": "bottom", "values": [-300,-280,-260,-240,-220,-200,-180,-160,-140,-120,-100,-80,-60,-40,-20,0,20,40,60,80,100,120,140,160,180,200,220,240,260,280,300,320,340,360,380],
                   "labelExpr": "datum.value % 100 === 0 ? datum.label : ''", "labelPadding": 10,
                   "tickSize": {"condition": {"test": "datum.value % 100 === 0", "value": -6}, "value": -3},
                   "tickWidth": {"condition": {"test": "datum.value % 100 === 0", "value": 2}, "value": 1}}},
    "y": {"field": "d", "type": "quantitative", "scale": {"domain": [925, 1136], "nice": false, "zero": false},
          "axis": {"orient": "left", "values": [950,1000,1050,1100], "labelPadding": 16, "tickSize": -6, "tickWidth": 2}}
   }},
  {"mark": {"type": "line", "opacity": 0, "clip": true},
   "encoding": {
    "x": {"field": "t", "type": "quantitative",
          "axis": {"orient": "top", "labels": false, "values": [-300,-280,-260,-240,-220,-200,-180,-160,-140,-120,-100,-80,-60,-40,-20,0,20,40,60,80,100,120,140,160,180,200,220,240,260,280,300,320,340,360,380],
                   "tickSize": {"condition": {"test": "datum.value % 100 === 0", "value": -6}, "value": -3},
                   "tickWidth": {"condition": {"test": "datum.value % 100 === 0", "value": 2}, "value": 1}}},
    "y": {"field": "d", "type": "quantitative",
          "axis": {"orient": "right", "labels": false, "values": [930,940,950,960,970,980,990,1000,1010,1020,1030,1040,1050,1060,1070,1080,1090,1100,1110,1120,1130],
                   "tickSize": {"condition": {"test": "datum.value % 50 === 0", "value": -6}, "value": -3},
                   "tickWidth": {"condition": {"test": "datum.value % 50 === 0", "value": 2}, "value": 1}}}
   }},
  {"mark": {"type": "line", "opacity": 0, "clip": true},
   "encoding": {
    "x": {"field": "t", "type": "quantitative", "axis": null},
    "y": {"field": "d", "type": "quantitative",
          "axis": {"orient": "left", "labels": false, "values": [930,940,960,970,980,990,1010,1020,1030,1040,1060,1070,1080,1090,1110,1120,1130], "tickSize": -3, "tickWidth": 1}}
   }}
 ],
 "resolve": {"axis": {"x": "independent", "y": "independent"}}
}
]
}
